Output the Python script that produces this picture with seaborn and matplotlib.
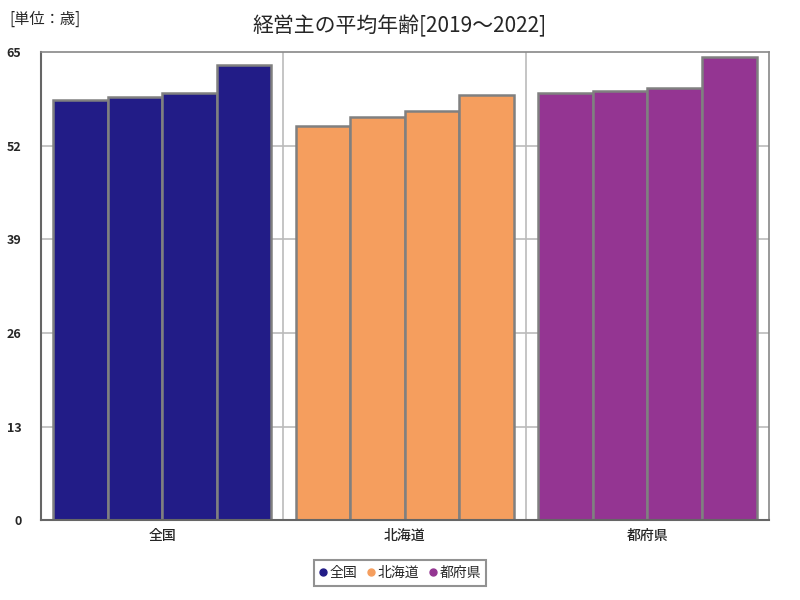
import matplotlib
matplotlib.use("Agg")
import matplotlib.pyplot as plt
from matplotlib.lines import Line2D
import pandas as pd
import seaborn as sns

# data
regions = ["全国", "北海道", "都府県"]
years = ["2019", "2020", "2021", "2022"]
zenkoku = [58.3, 58.8, 59.3, 63.2]
hokkaido = [54.8, 56.0, 56.8, 59.0]
tofuken = [59.3, 59.6, 60.0, 64.3]
region_colors = ["#221c87", "#f59e5e", "#943592"]
yticks = [0, 13, 26, 39, 52, 65]

rows = []
for region, vals in zip(regions, [zenkoku, hokkaido, tofuken]):
    for year, v in zip(years, vals):
        rows.append({"region": region, "year": year, "age": v})
df = pd.DataFrame(rows)

sns.set_style("white")
plt.rcParams["font.family"] = ["Noto Sans CJK JP", "DejaVu Sans"]

fig = plt.figure(figsize=(8, 6), dpi=100)
ax = fig.add_axes([0.051, 0.133, 0.91, 0.78])

sns.barplot(
    data=df, x="region", y="age", hue="year", order=regions, hue_order=years,
    width=0.9, gap=0, palette=["#888888"] * 4, edgecolor="#808080",
    linewidth=1.8, legend=False, ax=ax, errorbar=None,
)
# color each bar by its region
for i, patch in enumerate(ax.patches):
    patch.set_facecolor(region_colors[i % len(regions)])

ax.set_ylim(0, 65)
ax.set_xlim(-0.5, 2.5)
ax.set_yticks(yticks)
ax.set_yticklabels([str(t) for t in yticks], fontsize=9, fontweight="bold")
for lbl in ax.get_xticklabels():
    lbl.set_fontweight("medium")
ax.tick_params(axis="x", labelsize=10, length=0, pad=6)
ax.tick_params(axis="y", length=0, pad=14)
ax.set_xlabel("")
ax.set_ylabel("")

for t in yticks[1:-1]:
    ax.axhline(t, color="#bbbbbb", lw=1.2, zorder=0)
for xb in [0.5, 1.5]:
    ax.axvline(xb, color="#bbbbbb", lw=1.2, zorder=0)

for side in ["left", "bottom"]:
    ax.spines[side].set_color("#666666")
    ax.spines[side].set_linewidth(1.5)
for side in ["top", "right"]:
    ax.spines[side].set_color("#888888")
    ax.spines[side].set_linewidth(1.2)

fig.text(0.5, 0.957, "経営主の平均年齢[2019～2022]", ha="center", va="center", fontsize=15)
fig.text(0.012, 0.968, "[単位：歳]", ha="left", va="center", fontsize=11)

handles = [
    Line2D([], [], marker="o", ls="", color=c, markersize=5, label=r)
    for r, c in zip(regions, region_colors)
]
leg = fig.legend(
    handles=handles, loc="center", bbox_to_anchor=(0.5, 0.045), ncol=3,
    frameon=True, fancybox=False, fontsize=10, handlelength=0.6,
    handletextpad=0.15, columnspacing=0.7, borderpad=0.4, borderaxespad=0,
)
leg.get_frame().set_edgecolor("#777777")
leg.get_frame().set_linewidth(1.5)

fig.savefig("out.png", dpi=100)
